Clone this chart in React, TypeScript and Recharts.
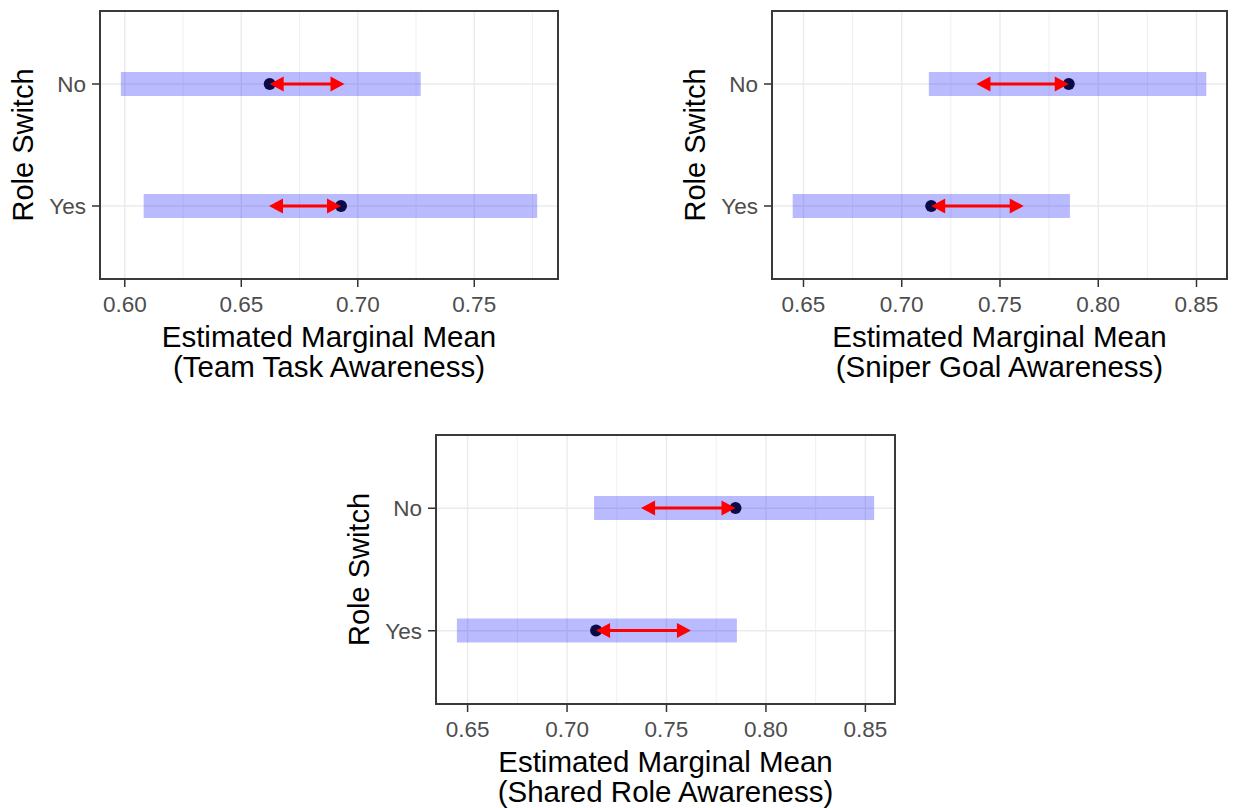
import React from "react";
import { ComposedChart, Bar, XAxis, YAxis, CartesianGrid } from "recharts";

const FONT = "Liberation Sans, Arial, sans-serif";

const levels = ["No", "Yes"];

// Team Task Awareness
const teamLower = [0.5983, 0.6081];
const teamUpper = [0.727, 0.777];
const teamMean = [0.6622, 0.6928];
const teamArrowLeft = [0.6622, 0.6619];
const teamArrowRight = [0.6943, 0.6928];
const teamTicks = [0.6, 0.65, 0.7, 0.75];
const teamMinor = [0.625, 0.675, 0.725, 0.775];

// Sniper Goal Awareness
const sniperLower = [0.7138, 0.6445];
const sniperUpper = [0.855, 0.7856];
const sniperMean = [0.785, 0.715];
const sniperArrowLeft = [0.738, 0.715];
const sniperArrowRight = [0.785, 0.7621];
const sniperTicks = [0.65, 0.7, 0.75, 0.8, 0.85];
const sniperMinor = [0.675, 0.725, 0.775, 0.825];

// Shared Role Awareness
const sharedLower = [0.7136, 0.6446];
const sharedUpper = [0.8544, 0.7854];
const sharedMean = [0.7847, 0.7146];
const sharedArrowLeft = [0.7372, 0.7146];
const sharedArrowRight = [0.7847, 0.7623];
const sharedTicks = [0.65, 0.7, 0.75, 0.8, 0.85];
const sharedMinor = [0.675, 0.725, 0.775, 0.825];

function makeRows(lower, upper, mean, aL, aR) {
  return levels.map((level, i) => ({
    level,
    ci: [lower[i], upper[i]],
    cmp: [aL[i], aR[i]],
    mean: mean[i],
  }));
}

// ggplot-like 5% expansion of the data range
function expand(lower, upper) {
  const lo = Math.min(...lower);
  const hi = Math.max(...upper);
  const pad = (hi - lo) * 0.05;
  return [lo - pad, hi + pad];
}

function CompareShape(props: any) {
  const { x, y, width, height, payload } = props;
  const cy = y + height / 2;
  const [a, b] = payload.cmp;
  const t = b === a ? 0 : (payload.mean - a) / (b - a);
  const dotX = x + width * t;
  const xl = x;
  const xr = x + width;
  const L = 14;
  const h = 7.5;
  return (
    <g>
      <circle cx={dotX} cy={cy} r={6} fill="#0b0b45" />
      <line x1={xl + 4} x2={xr - 4} y1={cy} y2={cy} stroke="#ff0000" strokeWidth={2.8} />
      <polygon points={`${xl},${cy} ${xl + L},${cy - h} ${xl + L},${cy + h}`} fill="#ff0000" />
      <polygon points={`${xr},${cy} ${xr - L},${cy - h} ${xr - L},${cy + h}`} fill="#ff0000" />
    </g>
  );
}

function Panel({ rows, domain, ticks, minor, subtitle, left, top, plotW, plotH }) {
  const yW = 100;
  const xH = 120;
  const mTop = 11;
  const width = yW + plotW + 10;
  const height = mTop + plotH + xH + 5;
  const pad = Math.round(plotH * (0.6 / 2.2 - 0.25) * 2);
  return (
    <div style={{ position: "absolute", left: left - yW, top: top - mTop, width, height }}>
      <ComposedChart
        width={width}
        height={height}
        data={rows}
        layout="vertical"
        margin={{ top: mTop, right: 10, bottom: 5, left: 0 }}
        barSize={24}
        barGap={-24}
      >
        <CartesianGrid xAxisId="minor" horizontal={false} stroke="#f0f0f0" strokeWidth={1} />
        <CartesianGrid stroke="#ebebeb" strokeWidth={1.4} />
        <XAxis xAxisId="minor" type="number" domain={domain} ticks={minor} interval={0} allowDataOverflow hide />
        <XAxis
          type="number"
          domain={domain}
          ticks={ticks}
          interval={0}
          allowDataOverflow
          tickFormatter={(v) => v.toFixed(2)}
          height={xH}
          axisLine={false}
          tickSize={8}
          tickMargin={9}
          tickLine={{ stroke: "#333333", strokeWidth: 1.5 }}
          tick={{ fill: "#4d4d4d", fontSize: 22.5, fontFamily: FONT }}
          label={(p: any) => {
            const vb = p.viewBox;
            const cx = vb.x + vb.width / 2;
            return (
              <text x={cx} y={vb.y + 68} textAnchor="middle" fontSize={29.5} fontFamily={FONT} fill="#000">
                <tspan x={cx}>Estimated Marginal Mean</tspan>
                <tspan x={cx} dy={30}>{subtitle}</tspan>
              </text>
            );
          }}
        />
        <YAxis
          type="category"
          dataKey="level"
          width={yW}
          padding={{ top: pad, bottom: pad }}
          axisLine={false}
          tickSize={8}
          tickMargin={6}
          tickLine={{ stroke: "#333333", strokeWidth: 1.5 }}
          tick={{ fill: "#4d4d4d", fontSize: 22.5, fontFamily: FONT }}
          label={(p: any) => {
            const vb = p.viewBox;
            const lx = vb.x + vb.width - 67;
            const ly = vb.y + vb.height / 2;
            return (
              <text
                x={lx}
                y={ly}
                textAnchor="middle"
                fontSize={29}
                fontFamily={FONT}
                fill="#000"
                transform={`rotate(-90, ${lx}, ${ly})`}
              >
                Role Switch
              </text>
            );
          }}
        />
        <Bar dataKey="ci" fill="#0000ff" fillOpacity={0.27} isAnimationActive={false} />
        <Bar dataKey="cmp" shape={CompareShape} isAnimationActive={false} />
      </ComposedChart>
      <div
        style={{
          position: "absolute",
          left: yW - 1,
          top: mTop - 1,
          width: plotW + 2,
          height: plotH + 2,
          border: "2px solid #3a3a3a",
          boxSizing: "border-box",
          pointerEvents: "none",
        }}
      />
    </div>
  );
}

export default function App() {
  return (
    <div style={{ position: "absolute", left: 0, top: 0, width: 1235, height: 808, background: "#fff" }}>
      <Panel
        rows={makeRows(teamLower, teamUpper, teamMean, teamArrowLeft, teamArrowRight)}
        domain={expand(teamLower, teamUpper)}
        ticks={teamTicks}
        minor={teamMinor}
        subtitle="(Team Task Awareness)"
        left={100}
        top={11}
        plotW={458}
        plotH={268}
      />
      <Panel
        rows={makeRows(sniperLower, sniperUpper, sniperMean, sniperArrowLeft, sniperArrowRight)}
        domain={expand(sniperLower, sniperUpper)}
        ticks={sniperTicks}
        minor={sniperMinor}
        subtitle="(Sniper Goal Awareness)"
        left={772}
        top={11}
        plotW={455}
        plotH={268}
      />
      <Panel
        rows={makeRows(sharedLower, sharedUpper, sharedMean, sharedArrowLeft, sharedArrowRight)}
        domain={expand(sharedLower, sharedUpper)}
        ticks={sharedTicks}
        minor={sharedMinor}
        subtitle="(Shared Role Awareness)"
        left={436}
        top={435}
        plotW={459}
        plotH={269}
      />
    </div>
  );
}
